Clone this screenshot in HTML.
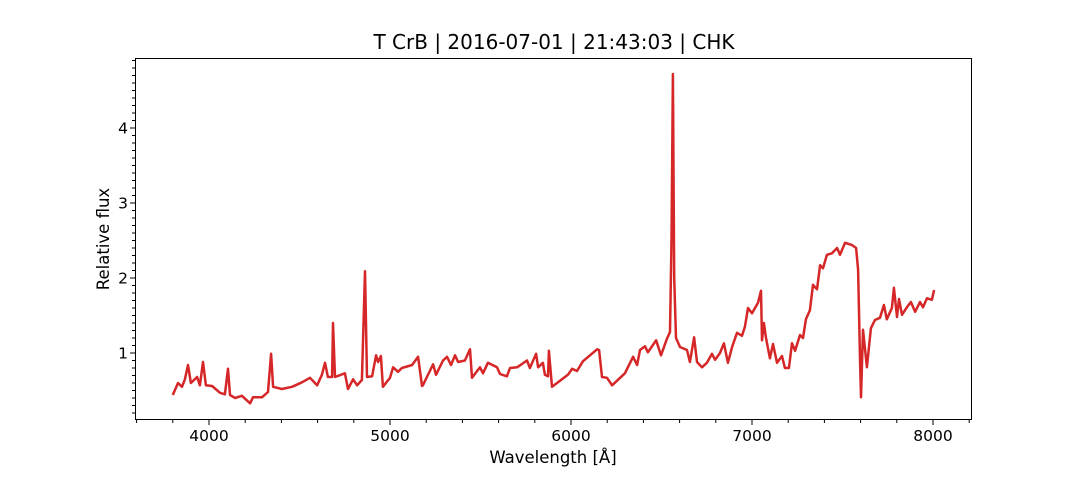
<!DOCTYPE html>
<html><head><meta charset="utf-8"><style>
body{margin:0;background:#fff;}
svg{display:block;font-family:"DejaVu Sans","Liberation Sans",sans-serif;}
</style></head><body>
<svg id="chart" width="1080" height="480">
<rect width="1080" height="480" fill="#fff"/>
<text x="554" y="49" font-size="20" text-anchor="middle">T CrB | 2016-07-01 | 21:43:03 | CHK</text>
<g id="axes"></g>
<path id="line" fill="none" stroke="#d62728" stroke-width="2.5" stroke-linejoin="round"/>
<rect x="135.5" y="58.5" width="836" height="361" fill="none" stroke="#000" stroke-width="1"/>
<text x="553" y="463" font-size="16.5" text-anchor="middle">Wavelength [Å]</text>
<text x="0" y="0" font-size="16.5" text-anchor="middle" transform="translate(109,239) rotate(-90)">Relative flux</text>
</svg>
<script>
const wavelength=[3800,3829,3851,3867,3884,3900,3934,3950,3967,3983,4017,4061,4088,4105,4116,4144,4182,4227,4243,4293,4326,4343,4354,4403,4459,4514,4558,4597,4624,4641,4657,4680,4685,4696,4751,4768,4796,4818,4845,4862,4873,4901,4923,4934,4950,4961,5000,5017,5044,5066,5122,5155,5177,5182,5204,5238,5254,5293,5315,5337,5359,5376,5414,5442,5453,5497,5514,5541,5591,5608,5646,5663,5702,5757,5773,5807,5818,5845,5856,5873,5878,5895,5939,5983,6006,6033,6066,6144,6155,6171,6199,6227,6271,6298,6343,6365,6381,6409,6425,6470,6497,6530,6547,6555,6563,6570,6580,6602,6641,6657,6680,6696,6724,6751,6779,6796,6823,6845,6867,6890,6917,6945,6961,6978,7000,7033,7050,7055,7066,7077,7099,7116,7138,7166,7182,7204,7221,7238,7265,7282,7298,7320,7337,7359,7376,7392,7414,7442,7470,7486,7514,7552,7575,7586,7597,7602,7613,7635,7657,7679,7707,7729,7745,7773,7784,7801,7812,7829,7856,7878,7901,7928,7945,7967,7994,8006];
const flux=[0.44,0.60,0.55,0.65,0.84,0.60,0.68,0.57,0.88,0.57,0.56,0.47,0.45,0.79,0.44,0.40,0.43,0.33,0.41,0.41,0.48,0.99,0.55,0.52,0.55,0.61,0.67,0.57,0.71,0.87,0.68,0.68,1.40,0.68,0.73,0.52,0.65,0.57,0.64,2.09,0.68,0.69,0.97,0.88,0.96,0.55,0.67,0.81,0.75,0.80,0.84,0.95,0.56,0.57,0.68,0.85,0.71,0.90,0.95,0.84,0.97,0.88,0.90,1.05,0.67,0.81,0.73,0.87,0.81,0.72,0.69,0.80,0.81,0.90,0.80,0.99,0.81,0.87,0.71,0.69,1.03,0.55,0.63,0.71,0.79,0.76,0.89,1.05,1.04,0.68,0.67,0.57,0.67,0.73,0.95,0.84,1.04,1.09,1.01,1.17,0.97,1.19,1.28,2.5,4.72,2.0,1.20,1.08,1.04,0.88,1.21,0.88,0.81,0.87,0.99,0.91,1.00,1.13,0.87,1.08,1.27,1.23,1.35,1.60,1.53,1.67,1.83,1.17,1.40,1.21,0.93,1.12,0.87,0.96,0.80,0.80,1.13,1.03,1.24,1.20,1.45,1.57,1.91,1.85,2.17,2.13,2.31,2.33,2.40,2.31,2.47,2.44,2.40,2.11,0.87,0.41,1.31,0.81,1.33,1.44,1.47,1.64,1.45,1.60,1.87,1.48,1.72,1.51,1.61,1.68,1.55,1.68,1.61,1.73,1.71,1.84];
const xTicks=[4000,5000,6000,7000,8000];
const yTicks=[1,2,3,4];
const X=v=>209+(v-4000)*0.181;
const Y=v=>353-(v-1)*75;
const NS="http://www.w3.org/2000/svg";
const ax=document.getElementById('axes');
function mk(t,a){const e=document.createElementNS(NS,t);for(const k in a)e.setAttribute(k,a[k]);ax.appendChild(e);return e;}
for(let w=3600;w<=8200;w+=200){const x=X(w);const maj=w%1000===0;
 const t=mk('line',{x1:x,x2:x,y1:420,y2:420+(maj?5:3),stroke:'#000','stroke-width':1});
 
 }
xTicks.forEach(w=>{const t=mk('text',{x:X(w),y:441,'font-size':15.5,'text-anchor':'middle'});t.textContent=w;
 
 });
for(let i=2;i<=49;i++){const v=i/10;const y=Y(v);if(y<58||y>420)continue;const maj=i%10===0;
 const t=mk('line',{x1:135,x2:135-(maj?5:3),y1:y,y2:y,stroke:'#000','stroke-width':1});
 
 }
yTicks.forEach(v=>{const t=mk('text',{x:128,y:Y(v)+5.5,'font-size':15.5,'text-anchor':'end'});t.textContent=v;
 
 });
document.getElementById('line').setAttribute('d',wavelength.map((w,i)=>(i?'L':'M')+X(w).toFixed(1)+','+Y(flux[i]).toFixed(1)).join(''));
</script>
</body></html>
